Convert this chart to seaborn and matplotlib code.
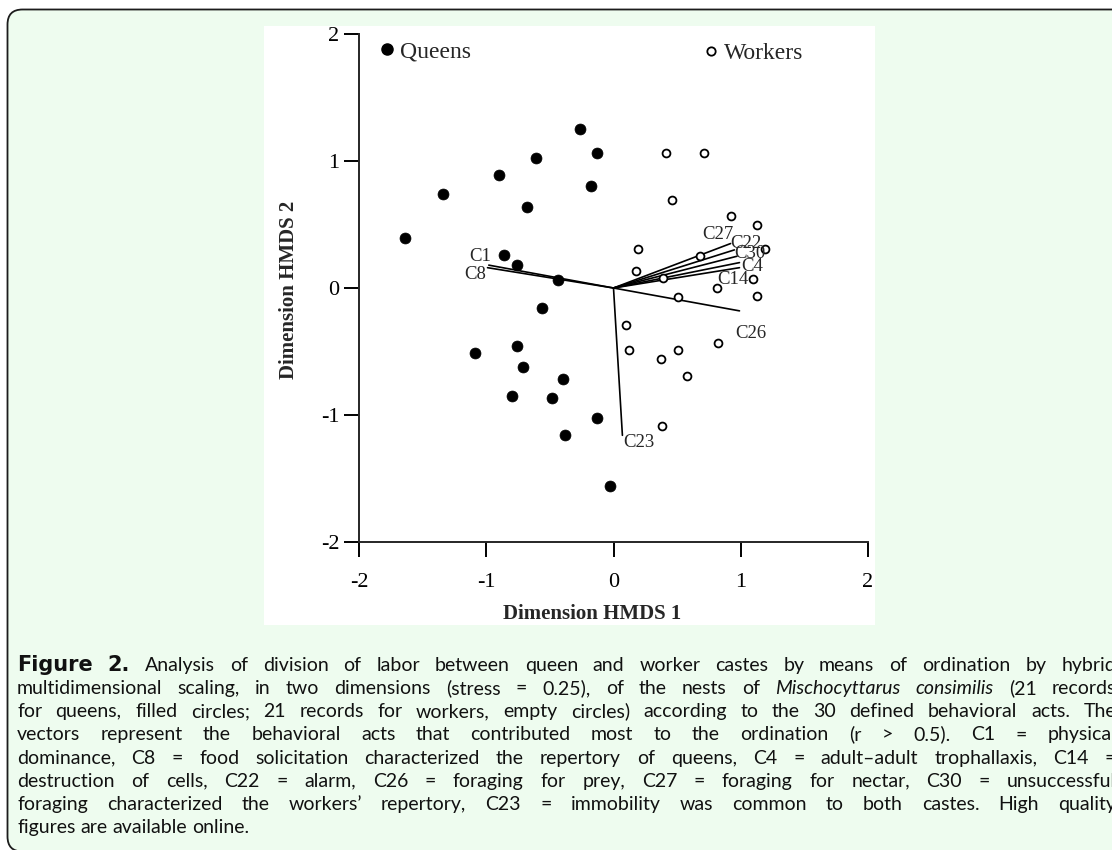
import numpy as np
import pandas as pd
import matplotlib
matplotlib.use("Agg")
import matplotlib.pyplot as plt
from matplotlib.patches import FancyBboxPatch, Rectangle
from matplotlib.lines import Line2D
import seaborn as sns

# HMDS scores
queen_x = [-1.64, -1.34, -0.90, -0.61, -0.26, -0.13, -0.18, -0.68, -0.86, -0.76, -0.44,
           -0.56, -1.09, -0.76, -0.71, -0.40, -0.80, -0.48, -0.13, -0.38, -0.03]
queen_y = [0.39, 0.74, 0.89, 1.02, 1.25, 1.06, 0.80, 0.64, 0.26, 0.18, 0.06,
           -0.16, -0.51, -0.46, -0.62, -0.72, -0.85, -0.87, -1.02, -1.16, -1.56]
worker_x = [0.41, 0.71, 0.46, 0.92, 1.13, 0.19, 1.19, 0.68, 0.18, 0.39, 0.81, 1.10, 0.51, 1.13,
            0.10, 0.12, 0.37, 0.51, 0.58, 0.82, 0.38]
worker_y = [1.06, 1.06, 0.69, 0.57, 0.50, 0.31, 0.31, 0.25, 0.13, 0.08, 0.00, 0.07, -0.07, -0.06,
            -0.29, -0.49, -0.56, -0.49, -0.69, -0.43, -1.09]

# behavioural act vectors (r > 0.5)
vec_names = ["C1", "C8", "C27", "C22", "C30", "C4", "C14", "C26", "C23"]
vec_x = [-0.98, -0.99, 0.92, 0.95, 0.97, 0.99, 0.99, 0.99, 0.07]
vec_y = [0.18, 0.16, 0.35, 0.30, 0.25, 0.20, 0.16, -0.18, -1.16]
# where each vector label sits
lab_x = [-1.05, -1.09, 0.82, 1.04, 1.07, 1.09, 0.94, 1.08, 0.20]
lab_y = [0.25, 0.11, 0.42, 0.35, 0.27, 0.17, 0.07, -0.36, -1.22]

ticks = [-2, -1, 0, 1, 2]

caption_lines = [
    [("Figure", "b"), ("2.", "b"), "Analysis of division of labor between queen and worker castes by means of ordination by hybrid"],
    ["multidimensional scaling, in two dimensions (stress = 0.25), of the nests of", ("Mischocyttarus", "i"),
     ("consimilis", "i"), "(21 records"],
    ["for queens, filled circles; 21 records for workers, empty circles) according to the 30 defined behavioral acts. The"],
    ["vectors represent the behavioral acts that contributed most to the ordination (r > 0.5). C1 = physical"],
    ["dominance, C8 = food solicitation characterized the repertory of queens, C4 = adult\u2013adult trophallaxis, C14 ="],
    ["destruction of cells, C22 = alarm, C26 = foraging for prey, C27 = foraging for nectar, C30 = unsuccessful"],
    ["foraging characterized the workers\u2019 repertory, C23 = immobility was common to both castes. High quality"],
    ["figures are available online."],
]

sns.set_style("ticks")
plt.rcParams["axes.unicode_minus"] = False
plt.rcParams["font.family"] = ["Liberation Serif", "DejaVu Serif"]

W, H = 1112, 850
fig = plt.figure(figsize=(W / 100, H / 100), dpi=100, facecolor="white")

# page background, frame and caption drawn in pixel coordinates
bg = fig.add_axes([0, 0, 1, 1])
bg.set_xlim(0, W)
bg.set_ylim(H, 0)
bg.axis("off")
bg.set_zorder(-1)
bg.add_patch(FancyBboxPatch((7.5, 9.5), 1130, 842, boxstyle="round,pad=0,rounding_size=15",
                            fc="#eefcef", ec="#1c1c1c", lw=1.3))
bg.add_patch(Rectangle((264, 26), 611, 599, fc="white", ec="none"))

# scatter plot
ax = fig.add_axes([359 / W, 1 - 542 / H, 509 / W, 508 / H])
ax.set_facecolor("white")

queens = pd.DataFrame({"x": queen_x, "y": queen_y})
workers = pd.DataFrame({"x": worker_x, "y": worker_y})

for vx, vy in zip(vec_x, vec_y):
    ax.plot([0, vx], [0, vy], color="black", lw=1.2, zorder=2)

sns.scatterplot(data=queens, x="x", y="y", ax=ax, color="black", s=62, edgecolor="black",
                linewidth=0.5, zorder=3, legend=False)
sns.scatterplot(data=workers, x="x", y="y", ax=ax, facecolor="white", s=32, edgecolor="black",
                linewidth=1.3, zorder=3, legend=False)

for name, lx, ly in zip(vec_names, lab_x, lab_y):
    ax.text(lx, ly, name, fontsize=13.5, ha="center", va="center", zorder=4)

ax.set_xlim(-2, 2)
ax.set_ylim(-2, 2)
ax.set_xticks(ticks)
ax.set_yticks(ticks)
ax.set_xticklabels([str(t) for t in ticks])
ax.set_yticklabels([str(t) for t in ticks])
sns.despine(ax=ax)
for side in ["left", "bottom"]:
    ax.spines[side].set_linewidth(1.4)
ax.tick_params(axis="both", length=10.5, width=1.4, labelsize=16, colors="black")
ax.tick_params(axis="x", pad=12)
ax.tick_params(axis="y", pad=3.5)

ax.set_xlabel("Dimension HMDS 1", fontsize=15, fontweight="bold")
ax.set_ylabel("Dimension HMDS 2", fontsize=15, fontweight="bold")
ax.xaxis.set_label_coords(0.458, -0.122)
ax.yaxis.set_label_coords(-0.118, 0.497)

q_handle = Line2D([], [], marker="o", ls="none", color="black", markersize=8)
w_handle = Line2D([], [], marker="o", ls="none", mfc="white", mec="black", mew=1.3, markersize=6)
leg1 = ax.legend([q_handle], ["Queens"], loc="center left", bbox_to_anchor=(0.041, 0.966),
                 frameon=False, fontsize=17, handlelength=0.6, handletextpad=0.25, borderpad=0,
                 borderaxespad=0)
ax.add_artist(leg1)
ax.legend([w_handle], ["Workers"], loc="center left", bbox_to_anchor=(0.678, 0.962),
          frameon=False, fontsize=17, handlelength=0.6, handletextpad=0.25, borderpad=0,
          borderaxespad=0)

# justified caption
fig.canvas.draw()
renderer = fig.canvas.get_renderer()
styles = {
    "n": {"family": ["Lato", "DejaVu Sans"], "fontsize": 14},
    "b": {"family": ["DejaVu Sans"], "fontweight": "bold", "fontsize": 15},
    "i": {"family": ["Lato", "DejaVu Sans"], "fontstyle": "italic", "fontsize": 14},
}


def split_words(line):
    words = []
    for part in line:
        if isinstance(part, tuple):
            words.append(part)
        else:
            words.extend((w, "n") for w in part.split(" "))
    return words


def text_width(s, style):
    t = bg.text(0, 0, s, **styles[style])
    w = t.get_window_extent(renderer).width
    t.remove()
    return w


left, right = 17, 1116
base0, step = 671, 23.15
space_w = text_width("a b", "n") - text_width("ab", "n")
for i, line in enumerate(caption_lines):
    words = split_words(line)
    widths = [text_width(w, s) for w, s in words]
    last = i == len(caption_lines) - 1
    gap = space_w if last else (right - left - sum(widths)) / (len(words) - 1)
    x = left
    y = base0 + i * step
    for (w, s), ww in zip(words, widths):
        bg.text(x, y, w, va="baseline", ha="left", color="#111111", **styles[s])
        x += ww + gap

fig.savefig("out.png", dpi=100, facecolor=fig.get_facecolor())
